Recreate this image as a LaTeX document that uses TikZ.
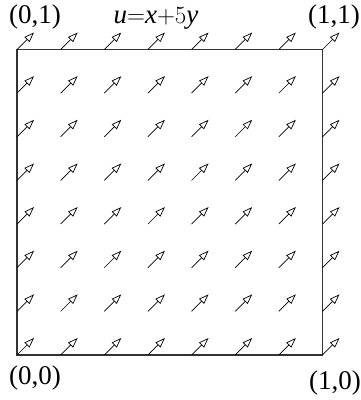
\documentclass[tikz,border=0pt]{standalone}
\usepackage{fontspec}
\setmainfont{Liberation Serif}
\usetikzlibrary{arrows.meta}
\begin{document}
\begin{tikzpicture}[x=1pt,y=1pt,
  vec/.style={line width=0.7pt,-{Triangle[open,length=10pt,width=7pt]}},
  lbl/.style={inner sep=0pt,font=\fontsize{27}{30}\selectfont}]
\useasboundingbox (0,0) rectangle (360,400);
\draw[line width=1.2pt,black!80] (17,45) rectangle (322.5,350.5);
\foreach \i in {0,...,7}{
  \foreach \j in {0,...,7}{
    \draw[vec] ({17+43.64*\i},{45+43.64*\j}) -- ++(17,17);
  }
}
\node[lbl] (p01) at (35,383) {(0,1)};
\node[lbl] (eq) at (156,382) {$\mathit{u}{=}\mathit{x}{+}5\mathit{y}$};
\node[lbl] (p11) at (334,383) {(1,1)};
\node[lbl] (p00) at (35,22) {(0,0)};
\node[lbl] (p10) at (335,17) {(1,0)};
\end{tikzpicture}
\end{document}
